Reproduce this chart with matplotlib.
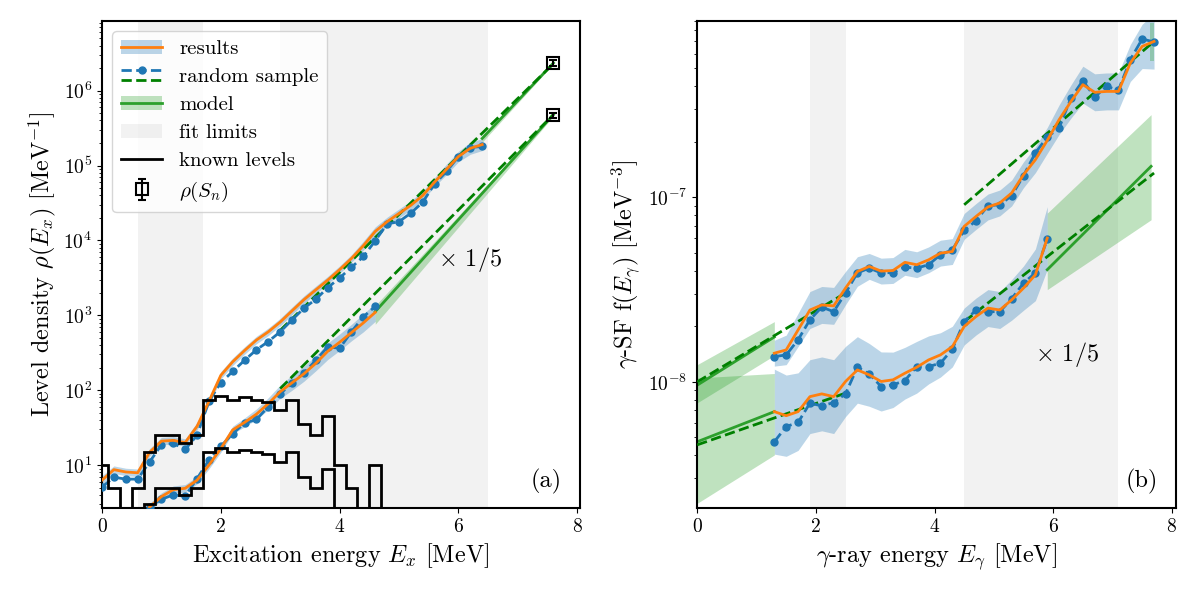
import numpy as np
import matplotlib
matplotlib.use("Agg")
import matplotlib.pyplot as plt
from matplotlib.lines import Line2D
from matplotlib.patches import Patch
from matplotlib.legend_handler import HandlerBase

plt.rcParams.update({
    "font.family": "serif",
    "font.serif": ["cmr10"],
    "mathtext.fontset": "cm",
    "axes.unicode_minus": False,
    "axes.formatter.use_mathtext": True,
    "font.size": 14,
    "axes.linewidth": 1.5,
})

# ---------------- panel (a): level density ----------------
ex_hi = [0.0, 0.2, 0.4, 0.6, 0.8, 1.0, 1.2, 1.4, 1.6, 1.8, 2.0, 2.2, 2.4, 2.6, 2.8, 3.0,
         3.2, 3.4, 3.6, 3.8, 4.0, 4.2, 4.4, 4.6, 4.8, 5.0, 5.2, 5.4, 5.6, 5.8, 6.0, 6.2, 6.4]
rho_hi_res = [6.3, 8.7, 8.1, 7.9, 14.8, 20.9, 21.4, 20.0, 33, 71, 158, 240, 339, 468, 603, 813,
              1150, 1620, 2190, 2950, 4070, 5750, 8510, 13200, 17800, 22900, 29500, 39800,
              60300, 89100, 131800, 169800, 190500]
rho_hi_smp = [5.1, 6.9, 6.5, 6.5, 11, 18.6, 19.5, 16.2, 25, 71, 126, 178, 251, 347, 447, 603,
              871, 1245, 1640, 2340, 3160, 4370, 6100, 9890, 16600, 17800, 23200, 32400,
              57100, 83200, 131800, 173800, 179900]
rho_hi_err = [0.06, 0.05, 0.05, 0.05, 0.05, 0.05, 0.05, 0.05, 0.05, 0.05, 0.05, 0.05, 0.05,
              0.05, 0.05, 0.05, 0.05, 0.05, 0.05, 0.05, 0.05, 0.05, 0.06, 0.06, 0.06, 0.06,
              0.06, 0.06, 0.06, 0.07, 0.07, 0.08, 0.08]

ex_lo = [0.8, 1.0, 1.2, 1.4, 1.6, 1.8, 2.0, 2.2, 2.4, 2.6, 2.8, 3.0, 3.2, 3.4, 3.6, 3.8,
         4.0, 4.2, 4.4, 4.6]
rho_lo_res = [2.75, 3.8, 4.7, 4.9, 6.3, 10, 16.6, 29.5, 37.2, 47.9, 66.1, 95.5, 126, 166,
              229, 331, 437, 589, 794, 1096]
rho_lo_smp = [2.8, 3.5, 4.0, 3.85, 6.6, 11.7, 17.8, 26.3, 36.3, 40.7, 60.3, 89, 126, 170,
              251, 380, 363, 603, 955, 1318]
rho_lo_err = [0.05, 0.05, 0.05, 0.05, 0.05, 0.05, 0.05, 0.05, 0.06, 0.07, 0.08, 0.09, 0.10,
              0.10, 0.10, 0.11, 0.11, 0.11, 0.12, 0.12]

# model (constant temperature) lines
ct_hi_smp_x = [3.0, 7.6]
ct_hi_smp_y = [631, 2.29e6]
ct_hi_res_x = [6.4, 7.6]
ct_hi_res_y = [2.3e5, 2.34e6]
ct_hi_res_lo = [2.05e5, 2.28e6]
ct_hi_res_hi = [2.55e5, 2.40e6]
ct_lo_smp_x = [3.0, 7.6]
ct_lo_smp_y = [105, 4.79e5]
ct_lo_res_x = [4.6, 7.6]
ct_lo_res_y = [1122, 4.79e5]
ct_lo_res_lo = [760, 4.57e5]
ct_lo_res_hi = [1350, 5.01e5]

# rho at Sn
sn_x = [7.6, 7.6]
sn_rho = [2.35e6, 4.7e5]
sn_err = [2.0e5, 4.0e4]

# known levels (per MeV), bins of 0.2 MeV
lvl_edges = [-0.1, 0.1, 0.3, 0.5, 0.7, 0.9, 1.1, 1.3, 1.5, 1.7, 1.9, 2.1, 2.3, 2.5, 2.7,
             2.9, 3.1, 3.3, 3.5, 3.7, 3.9, 4.1, 4.3, 4.5, 4.7, 4.9]
lvl_hi = [10, 5, 0, 5, 15, 25, 25, 20, 25, 75, 85, 75, 80, 75, 70, 55, 75, 35, 25, 45, 10,
          5, 0, 10, 0]
lvl_lo = [2, 1, 0, 1, 3, 5, 5, 4, 5, 15, 17, 15, 16, 15, 14, 11, 15, 7, 5, 9, 2, 1, 0, 2, 0]

fit_a = [(0.6, 1.7), (3.0, 6.5)]

# ---------------- panel (b): gamma strength function ----------------
eg_hi = [1.3, 1.5, 1.7, 1.9, 2.1, 2.3, 2.5, 2.7, 2.9, 3.1, 3.3, 3.5, 3.7, 3.9, 4.1, 4.3, 4.5,
         4.7, 4.9, 5.1, 5.3, 5.5, 5.7, 5.9, 6.1, 6.3, 6.5, 6.7, 6.9, 7.1, 7.3, 7.5, 7.7]
gsf_hi_res = [1.43e-8, 1.49e-8, 1.91e-8, 2.45e-8, 2.61e-8, 2.58e-8, 3.22e-8, 3.96e-8, 4.22e-8,
              3.98e-8, 4.01e-8, 4.44e-8, 4.31e-8, 4.58e-8, 4.98e-8, 5.08e-8, 6.95e-8, 7.87e-8,
              8.85e-8, 9.31e-8, 1.054e-7, 1.324e-7, 1.596e-7, 2.03e-7, 2.63e-7, 3.30e-7,
              4.07e-7, 3.70e-7, 3.74e-7, 3.74e-7, 5.33e-7, 6.56e-7, 6.98e-7]
gsf_hi_smp = [1.37e-8, 1.40e-8, 1.69e-8, 2.17e-8, 2.54e-8, 2.40e-8, 3.03e-8, 3.89e-8, 4.13e-8,
              3.89e-8, 3.91e-8, 4.18e-8, 4.13e-8, 4.31e-8, 4.88e-8, 5.19e-8, 6.61e-8, 7.46e-8,
              8.99e-8, 9.10e-8, 1.019e-7, 1.309e-7, 1.738e-7, 2.118e-7, 2.371e-7, 3.45e-7,
              4.28e-7, 3.49e-7, 3.98e-7, 3.80e-7, 5.56e-7, 7.19e-7, 6.93e-7]
gsf_hi_err = [0.07, 0.08, 0.09, 0.10, 0.10, 0.10, 0.09, 0.08, 0.07, 0.07, 0.07, 0.07, 0.07,
              0.07, 0.07, 0.07, 0.07, 0.07, 0.07, 0.07, 0.07, 0.07, 0.07, 0.07, 0.08, 0.09,
              0.10, 0.10, 0.10, 0.10, 0.10, 0.12, 0.15]

eg_lo = [1.3, 1.5, 1.7, 1.9, 2.1, 2.3, 2.5, 2.7, 2.9, 3.1, 3.3, 3.5, 3.7, 3.9, 4.1, 4.3, 4.5,
         4.7, 4.9, 5.1, 5.3, 5.5, 5.7, 5.9]
gsf_lo_res = [6.90e-9, 6.56e-9, 6.90e-9, 8.32e-9, 8.61e-9, 8.32e-9, 1.005e-8, 1.161e-8,
              1.091e-8, 1.005e-8, 1.026e-8, 1.114e-8, 1.20e-8, 1.315e-8, 1.40e-8, 1.552e-8,
              1.995e-8, 2.26e-8, 2.51e-8, 2.45e-8, 2.78e-8, 3.22e-8, 3.80e-8, 6.01e-8]
gsf_lo_smp = [4.74e-9, 5.73e-9, 6.03e-9, 7.67e-9, 7.41e-9, 7.73e-9, 8.61e-9, 1.202e-8,
              1.104e-8, 9.44e-9, 9.64e-9, 1.016e-8, 1.211e-8, 1.211e-8, 1.262e-8, 1.503e-8,
              2.12e-8, 2.45e-8, 2.40e-8, 2.40e-8, 2.82e-8, 3.43e-8, 3.89e-8, 5.93e-8]
gsf_lo_err = [0.23, 0.22, 0.21, 0.20, 0.20, 0.20, 0.19, 0.18, 0.17, 0.16, 0.15, 0.14, 0.14,
              0.13, 0.12, 0.11, 0.10, 0.10, 0.10, 0.10, 0.11, 0.12, 0.14, 0.17]

# model extrapolations
ex_low_x = [0.0, 1.3]
ex_hi_res_y = [9.6e-9, 1.75e-8]
ex_hi_res_lo = [7.7e-9, 1.39e-8]
ex_hi_res_hi = [1.24e-8, 2.12e-8]
ex_lo_res_y = [4.74e-9, 6.90e-9]
ex_lo_res_lo = [2.2e-9, 4.02e-9]
ex_lo_res_hi = [1.05e-8, 1.11e-8]
ex_low_smp_x = [0.0, 2.5]
ex_hi_smp_y = [1.0e-8, 3.03e-8]
ex_lo_smp_y = [4.56e-9, 8.69e-9]

hx_smp_x = [4.5, 7.7]
hx_hi_smp_y = [9.1e-8, 6.98e-7]
hx_lo_smp_y = [2.12e-8, 1.352e-7]
hx_lo_res_x = [5.9, 7.65]
hx_lo_res_y = [4.05e-8, 1.47e-7]
hx_lo_res_lo = [3.16e-8, 7.55e-8]
hx_lo_res_hi = [8.2e-8, 2.8e-7]
hx_hi_res_x = [7.64, 7.70]
hx_hi_res_lo = [5.45e-7, 5.45e-7]
hx_hi_res_hi = [8.8e-7, 8.8e-7]

fit_b = [(1.9, 2.5), (4.5, 7.1)]

C_BAND = "C0"
C_RES = "C1"
C_MOD = "C2"
C_SMPM = "green"

FS_LABEL = 17.5
FS_TICK = 14
FS_LEG = 15
FS_TXT = 17.5


def band(ax, x, y, w, **kw):
    y = np.asarray(y, float)
    w = np.asarray(w, float)
    ax.fill_between(x, y * 10 ** (-w), y * 10 ** w, color=C_BAND, alpha=0.3, lw=0, **kw)


fig = plt.figure(figsize=(12, 6), dpi=100)
axa = fig.add_axes([0.085, 0.153, 0.398, 0.812])
axb = fig.add_axes([0.581, 0.153, 0.399, 0.812])

# ---- panel a
for a, b in fit_a:
    axa.axvspan(a, b, color="0.5", alpha=0.1, lw=0, zorder=0)

for x, r, e in [(ex_hi, rho_hi_res, rho_hi_err), (ex_lo, rho_lo_res, rho_lo_err)]:
    band(axa, x, r, e, zorder=1)

axa.fill_between(ct_hi_res_x, ct_hi_res_lo, ct_hi_res_hi, color=C_MOD, alpha=0.3, lw=0, zorder=1)
axa.fill_between(ct_lo_res_x, ct_lo_res_lo, ct_lo_res_hi, color=C_MOD, alpha=0.3, lw=0, zorder=1)
axa.plot(ct_hi_res_x, ct_hi_res_y, color=C_MOD, lw=2, zorder=2)
axa.plot(ct_lo_res_x, ct_lo_res_y, color=C_MOD, lw=2, zorder=2)
axa.plot(ct_hi_smp_x, ct_hi_smp_y, color=C_SMPM, ls="--", lw=2, zorder=3)
axa.plot(ct_lo_smp_x, ct_lo_smp_y, color=C_SMPM, ls="--", lw=2, zorder=3)

for x, s in [(ex_hi, rho_hi_smp), (ex_lo, rho_lo_smp)]:
    axa.plot(x, s, color=C_BAND, ls="--", lw=2, marker="o", ms=5, zorder=4)
for x, r in [(ex_hi, rho_hi_res), (ex_lo, rho_lo_res)]:
    axa.plot(x, r, color=C_RES, lw=2, zorder=5)

axa.stairs(lvl_hi, lvl_edges, baseline=None, color="k", lw=2, zorder=6)
axa.stairs(lvl_lo, lvl_edges, baseline=None, color="k", lw=2, zorder=6)

sn_cont = axa.errorbar(sn_x, sn_rho, yerr=sn_err, fmt="s", color="k", mfc="none", ms=8,
                       mew=1.5, capsize=3, elinewidth=1.5, zorder=7)

axa.text(5.66, 5500, r"$\times$ 1/5", fontsize=FS_TXT, va="center", ha="left")
axa.text(0.963, 0.055, "(a)", transform=axa.transAxes, fontsize=FS_TXT, ha="right",
         va="center")

axa.set_yscale("log")
axa.set_xlim(0, 8.04)
axa.set_ylim(2.66, 8.5e6)
axa.set_xticks([0, 2, 4, 6, 8])
axa.set_xlabel(r"Excitation energy $E_x$ [MeV]", fontsize=FS_LABEL)
axa.set_ylabel(r"Level density $\rho(E_x)$ [MeV$^{-1}$]", fontsize=FS_LABEL)


class HandlerTwoDashed(HandlerBase):
    def create_artists(self, legend, orig_handle, xdescent, ydescent, width, height,
                       fontsize, trans):
        xs = [-xdescent, width - xdescent]
        y1 = -ydescent + height * 0.85
        y2 = -ydescent + height * 0.15
        l1 = Line2D(xs, [y1, y1], color=C_BAND, ls="--", lw=2)
        m1 = Line2D([width / 2 - xdescent], [y1], color=C_BAND, marker="o", ms=5, ls="none")
        l2 = Line2D(xs, [y2, y2], color=C_SMPM, ls="--", lw=2)
        for a in (l1, m1, l2):
            a.set_transform(trans)
        return [l1, m1, l2]


class SampleKey:
    pass


h_res = (Patch(color=C_BAND, alpha=0.3, lw=0), Line2D([], [], color=C_RES, lw=2))
h_mod = (Patch(color=C_MOD, alpha=0.3, lw=0), Line2D([], [], color=C_MOD, lw=2))
h_fit = Patch(color="0.5", alpha=0.1, lw=0)
h_lvl = Line2D([], [], color="k", lw=2)
h_smp = SampleKey()
leg = axa.legend([h_res, h_smp, h_mod, h_fit, h_lvl, sn_cont],
                 ["results", "random sample", "model", "fit limits", "known levels",
                  r"$\rho(S_n)$"],
                 loc="upper left", fontsize=FS_LEG, handler_map={SampleKey: HandlerTwoDashed()},
                 borderaxespad=0.5, labelspacing=0.45)

# ---- panel b
for a, b in fit_b:
    axb.axvspan(a, b, color="0.5", alpha=0.1, lw=0, zorder=0)

band(axb, eg_hi, gsf_hi_res, gsf_hi_err, zorder=1)
band(axb, eg_lo, gsf_lo_res, gsf_lo_err, zorder=1)

axb.fill_between(ex_low_x, ex_hi_res_lo, ex_hi_res_hi, color=C_MOD, alpha=0.3, lw=0, zorder=1)
axb.fill_between(ex_low_x, ex_lo_res_lo, ex_lo_res_hi, color=C_MOD, alpha=0.3, lw=0, zorder=1)
axb.fill_between(hx_lo_res_x, hx_lo_res_lo, hx_lo_res_hi, color=C_MOD, alpha=0.3, lw=0, zorder=1)
axb.fill_between(hx_hi_res_x, hx_hi_res_lo, hx_hi_res_hi, color=C_MOD, alpha=0.3, lw=0, zorder=1)
axb.plot(ex_low_x, ex_hi_res_y, color=C_MOD, lw=2, zorder=2)
axb.plot(ex_low_x, ex_lo_res_y, color=C_MOD, lw=2, zorder=2)
axb.plot(hx_lo_res_x, hx_lo_res_y, color=C_MOD, lw=2, zorder=2)
axb.plot(ex_low_smp_x, ex_hi_smp_y, color=C_SMPM, ls="--", lw=2, zorder=3)
axb.plot(ex_low_smp_x, ex_lo_smp_y, color=C_SMPM, ls="--", lw=2, zorder=3)
axb.plot(hx_smp_x, hx_hi_smp_y, color=C_SMPM, ls="--", lw=2, zorder=3)
axb.plot(hx_smp_x, hx_lo_smp_y, color=C_SMPM, ls="--", lw=2, zorder=3)

for x, s in [(eg_hi, gsf_hi_smp), (eg_lo, gsf_lo_smp)]:
    axb.plot(x, s, color=C_BAND, ls="--", lw=2, marker="o", ms=5, zorder=4)
for x, r in [(eg_hi, gsf_hi_res), (eg_lo, gsf_lo_res)]:
    axb.plot(x, r, color=C_RES, lw=2, zorder=5)

axb.text(5.69, 1.4e-8, r"$\times$ 1/5", fontsize=FS_TXT, va="center", ha="left")
axb.text(0.963, 0.055, "(b)", transform=axb.transAxes, fontsize=FS_TXT, ha="right",
         va="center")

axb.set_yscale("log")
axb.set_xlim(0, 8.07)
axb.set_ylim(2.07e-9, 9.0e-7)
axb.set_xticks([0, 2, 4, 6, 8])
axb.set_xlabel(r"$\gamma$-ray energy $E_\gamma$ [MeV]", fontsize=FS_LABEL)
axb.set_ylabel(r"$\gamma$-SF f$(E_\gamma)$ [MeV$^{-3}$]", fontsize=FS_LABEL)

for ax in (axa, axb):
    ax.tick_params(labelsize=FS_TICK)

fig.savefig("out.png", dpi=100)
